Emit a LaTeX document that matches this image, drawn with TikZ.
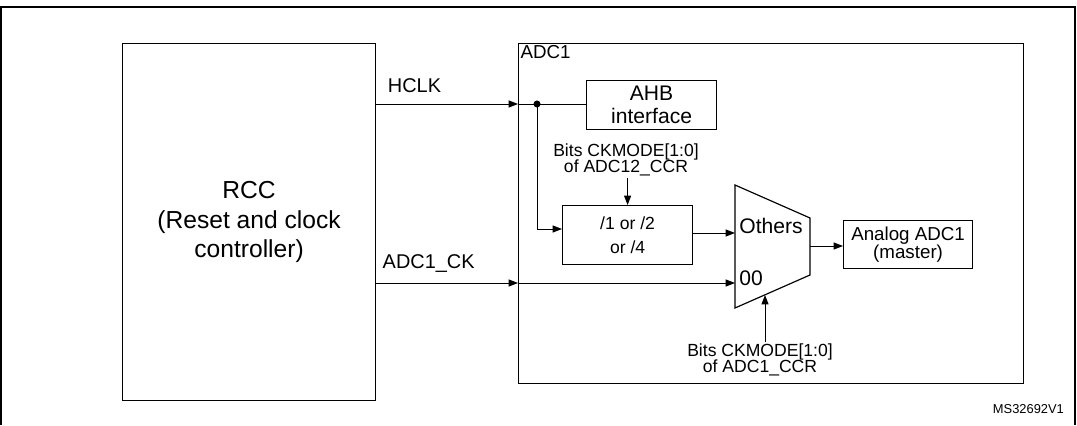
\documentclass[tikz,border=0pt]{standalone}
\usepackage{fontspec}
\setmainfont{Liberation Sans}
\usetikzlibrary{arrows.meta, positioning, calc}

\begin{document}
\begin{tikzpicture}[
        x=0.03cm, y=-0.03cm,
        font=\fontsize{14}{15}\selectfont,
        block/.style={
            draw,
            line width=1pt,
            align=center,
            inner sep=0pt
        },
        sig/.style={
            -{Triangle[length=8pt,width=6pt]},
            line width=0.8pt
        },
        labeltext/.style={
            align=center,
            inner sep=1pt,
            font=\fontsize{17}{17}\selectfont
        },
        bitstext/.style={
            align=center,
            inner sep=1pt,
            font=\fontsize{15}{14}\selectfont
        }
    ]
        \useasboundingbox (0,0) rectangle (1077,425);
        % frame
        \draw[line width=1pt] (1,425) -- (1,7) -- (1075,7) -- (1075,425);

        \node[block, anchor=north west, minimum width=7.59cm, minimum height=10.71cm,
              font=\fontsize{21}{25}\selectfont] (rcc) at (122,43) {RCC\\(Reset and clock\\controller)};
        \node[block, anchor=north west, minimum width=15.15cm, minimum height=10.2cm] (adc) at (518,43) {};
        \node[anchor=north west, inner sep=2pt, font=\fontsize{16}{16}\selectfont] at (adc.north west) {ADC1};

        \node[block, anchor=north west, minimum width=3.9cm, minimum height=1.47cm,
              font=\fontsize{18}{20}\selectfont] (ahb) at (586,80) {AHB\\interface};
        \node[block, anchor=north west, minimum width=3.9cm, minimum height=1.77cm,
              font=\fontsize{15}{20}\selectfont] (div) at (562,205) {/1 or /2\\or /4};
        \node[block, anchor=north west, minimum width=3.87cm, minimum height=1.44cm,
              font=\fontsize{16}{11}\selectfont] (analog) at (843,220) {Analog ADC1\\(master)};

        % multiplexer
        \draw[line width=1pt] (735,185) -- (810,218) -- (810,275) -- (735,308) -- cycle;
        \coordinate (muxin1) at (735,233);
        \coordinate (muxin2) at (735,283);
        \coordinate (muxout) at (810,246);
        \coordinate (muxbot) at (765,295);
        \node[anchor=west, inner sep=1pt, font=\fontsize{18}{18}\selectfont] at (738,226) {Others};
        \node[anchor=west, inner sep=1pt, font=\fontsize{18}{18}\selectfont] at (738,278) {00};

        % clocks
        \coordinate (hclkin) at (adc.west |- 0,104);
        \coordinate (ckin) at (adc.west |- 0,283);
        \coordinate (hclkout) at (rcc.east |- 0,104);
        \coordinate (ckout) at (rcc.east |- 0,283);
        \draw[sig] (hclkout) -- node[labeltext, above=8pt, pos=0.27] {HCLK} (hclkin);
        \draw[sig] (ckout) -- node[labeltext, above=8pt, pos=0.37] {ADC1\_CK} (ckin);
        \coordinate (tap) at (537,104);
        \fill (tap) circle (3pt);
        \draw[line width=0.8pt] (hclkin) -- (ahb.west |- tap);
        \draw[sig] (tap) |- (div.west |- 0,229);
        \draw[sig] (ckin) -- (muxin2);
        \draw[sig] (div.east |- muxin1) -- (muxin1);
        \draw[sig] (muxout) -- (analog.west |- muxout);

        % mode bits
        \node[bitstext] (ccr12) at (626,160) {Bits CKMODE[1:0]\\of ADC12\_CCR};
        \draw[sig] (ccr12.south -| div.north) -- (div.north);
        \node[bitstext] (ccr1) at (760,360) {Bits CKMODE[1:0]\\of ADC1\_CCR};
        \draw[sig] (ccr1.north -| muxbot) -- (muxbot);

        \node[font=\fontsize{11}{11}\selectfont, anchor=east] at (1068,409) {MS32692V1};
    \end{tikzpicture}
\end{document}
